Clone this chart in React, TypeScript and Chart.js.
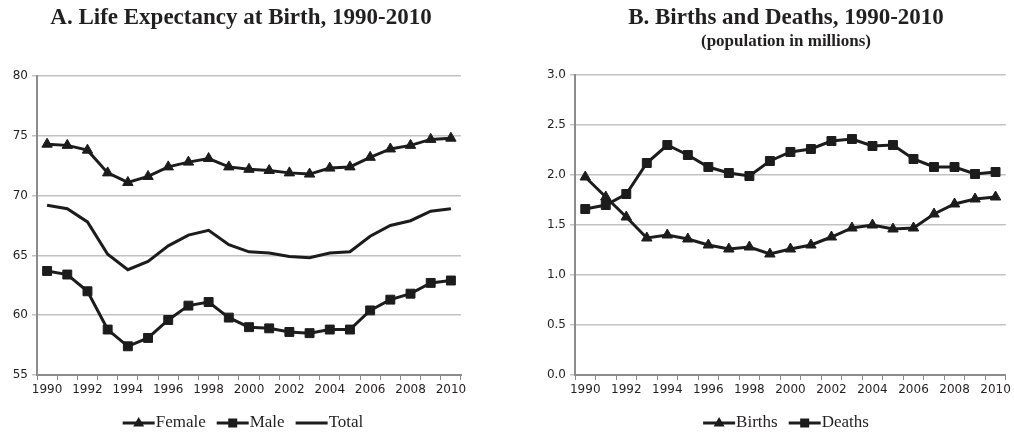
import { useEffect, useRef } from 'react';
import { Chart, registerables } from 'chart.js';

Chart.register(...registerables);

const years = ['1990', '1991', '1992', '1993', '1994', '1995', '1996', '1997', '1998', '1999', '2000', '2001', '2002', '2003', '2004', '2005', '2006', '2007', '2008', '2009', '2010'];
const female = [74.3, 74.2, 73.8, 71.9, 71.1, 71.6, 72.4, 72.8, 73.1, 72.4, 72.2, 72.1, 71.9, 71.8, 72.3, 72.4, 73.2, 73.9, 74.2, 74.7, 74.8];
const male = [63.7, 63.4, 62.0, 58.8, 57.4, 58.1, 59.6, 60.8, 61.1, 59.8, 59.0, 58.9, 58.6, 58.5, 58.8, 58.8, 60.4, 61.3, 61.8, 62.7, 62.9];
const total = [69.2, 68.9, 67.8, 65.1, 63.8, 64.5, 65.8, 66.7, 67.1, 65.9, 65.3, 65.2, 64.9, 64.8, 65.2, 65.3, 66.6, 67.5, 67.9, 68.7, 68.9];
const births = [1.98, 1.78, 1.58, 1.37, 1.40, 1.36, 1.30, 1.26, 1.28, 1.21, 1.26, 1.30, 1.38, 1.47, 1.50, 1.46, 1.47, 1.61, 1.71, 1.76, 1.78];
const deaths = [1.66, 1.70, 1.81, 2.12, 2.30, 2.20, 2.08, 2.02, 1.99, 2.14, 2.23, 2.26, 2.34, 2.36, 2.29, 2.30, 2.16, 2.08, 2.08, 2.01, 2.03];
const lifeTicks = [55, 60, 65, 70, 75, 80];
const popTicks = [0, 0.5, 1.0, 1.5, 2.0, 2.5, 3.0];

const titleA = 'A. Life Expectancy at Birth, 1990-2010';
const titleB = 'B. Births and Deaths, 1990-2010';
const subtitleB = '(population in millions)';

const SERIF = "'Liberation Serif', 'Times New Roman', serif";
const SANS = "'DejaVu Sans', Verdana, sans-serif";
const INK = '#1c1c1c';
const TEXT = '#231f20';
const GRID = '#c2c2c2';
const AXIS = '#8c8c8c';

// Draws an Excel-like legend (line with marker, then label) under the chart.
const lineLegend = {
  id: 'lineLegend',
  afterDraw(chart: any, _args: any, opts: any) {
    const ctx = chart.ctx;
    ctx.save();
    ctx.font = `17px ${SERIF}`;
    const markW = 32;
    const gapText = 1;
    const gapItem = 11;
    const items = chart.data.datasets.map((d: any) => ({
      label: d.label,
      style: d.pointStyle,
      w: markW + gapText + ctx.measureText(d.label).width,
    }));
    const totalW = items.reduce((s: number, it: any) => s + it.w, 0) + gapItem * (items.length - 1);
    let x = opts.centerX - totalW / 2;
    const ly = opts.lineY;
    for (const it of items) {
      ctx.strokeStyle = INK;
      ctx.fillStyle = INK;
      ctx.lineWidth = 3;
      ctx.beginPath();
      ctx.moveTo(x, ly);
      ctx.lineTo(x + markW, ly);
      ctx.stroke();
      const cx = x + markW / 2;
      if (it.style === 'triangle') {
        ctx.beginPath();
        ctx.moveTo(cx, ly - 6);
        ctx.lineTo(cx + 5.5, ly + 3.5);
        ctx.lineTo(cx - 5.5, ly + 3.5);
        ctx.closePath();
        ctx.fill();
      } else if (it.style === 'rect') {
        ctx.fillRect(cx - 4.5, ly - 4.5, 9, 9);
      }
      ctx.fillStyle = TEXT;
      ctx.textAlign = 'left';
      ctx.textBaseline = 'alphabetic';
      ctx.fillText(it.label, x + markW + gapText, opts.textY);
      x += it.w + gapItem;
    }
    ctx.restore();
  },
};

// Re-centres the title/subtitle blocks horizontally around a given x.
const titleCenter = {
  id: 'titleCenter',
  afterLayout(chart: any, _args: any, opts: any) {
    for (const box of chart.boxes) {
      if (box && box.options && box.options.text !== undefined && box.position === 'top') {
        box.left = opts.center - 250;
        box.right = opts.center + 250;
        box.width = 500;
      }
    }
  },
};

function xScale() {
  return {
    type: 'category',
    offset: true,
    grid: { offset: true, drawOnChartArea: false, drawTicks: true, tickLength: 5, color: AXIS, lineWidth: 1 },
    border: { color: AXIS, width: 2 },
    ticks: {
      autoSkip: false,
      maxRotation: 0,
      minRotation: 0,
      padding: 3,
      color: TEXT,
      font: { family: SANS, size: 12 },
      callback: (_v: any, i: number) => (i % 2 === 0 ? years[i] : ''),
    },
    afterFit: (s: any) => { s.height = 30; },
  };
}

function yScale(ticks: number[], yWidth: number, fmt: (v: number) => string) {
  return {
    type: 'linear',
    min: ticks[0],
    max: ticks[ticks.length - 1],
    afterBuildTicks: (s: any) => { s.ticks = ticks.map((v) => ({ value: v })); },
    grid: { color: GRID, lineWidth: 1.5, drawTicks: true, tickLength: 5 },
    border: { color: AXIS, width: 2 },
    ticks: {
      padding: 4,
      color: TEXT,
      font: { family: SANS, size: 12 },
      callback: (v: any) => fmt(Number(v)),
    },
    afterFit: (s: any) => { s.width = yWidth; },
  };
}

function lineDs(label: string, data: number[], style: any) {
  return {
    label,
    data,
    borderColor: INK,
    backgroundColor: INK,
    borderWidth: 3,
    tension: 0,
    pointStyle: style,
    pointRadius: style === false ? 0 : style === 'rect' ? 6.3 : 6,
    pointBorderWidth: 1,
    pointBackgroundColor: INK,
    pointBorderColor: INK,
  };
}

export default function App() {
  const leftRef = useRef<HTMLCanvasElement>(null);
  const rightRef = useRef<HTMLCanvasElement>(null);

  useEffect(() => {
    const left = new Chart(leftRef.current as HTMLCanvasElement, {
      type: 'line',
      data: {
        labels: years,
        datasets: [
          lineDs('Female', female, 'triangle'),
          lineDs('Male', male, 'rect'),
          lineDs('Total', total, false),
        ],
      },
      options: {
        responsive: false,
        animation: false,
        layout: { padding: { left: 0, right: 34, top: 0, bottom: 35 } },
        scales: {
          x: xScale() as any,
          y: yScale(lifeTicks, 37, (v) => String(v)) as any,
        },
        plugins: {
          legend: { display: false },
          tooltip: { enabled: false },
          title: {
            display: true,
            text: titleA,
            color: TEXT,
            font: { family: SERIF, size: 23, weight: 'bold', lineHeight: 1.2 },
            padding: { top: 4.5, bottom: 43.9 },
          },
          lineLegend: { centerX: 243, lineY: 423, textY: 427 },
          titleCenter: { center: 241 },
        } as any,
      },
      plugins: [lineLegend, titleCenter],
    });

    const right = new Chart(rightRef.current as HTMLCanvasElement, {
      type: 'line',
      data: {
        labels: years,
        datasets: [
          lineDs('Births', births, 'triangle'),
          lineDs('Deaths', deaths, 'rect'),
        ],
      },
      options: {
        responsive: false,
        animation: false,
        layout: { padding: { left: 0, right: 7, top: 0, bottom: 35 } },
        scales: {
          x: xScale() as any,
          y: yScale(popTicks, 80, (v) => v.toFixed(1)) as any,
        },
        plugins: {
          legend: { display: false },
          tooltip: { enabled: false },
          title: {
            display: true,
            text: titleB,
            color: TEXT,
            font: { family: SERIF, size: 23, weight: 'bold', lineHeight: 1.2 },
            padding: { top: 4, bottom: 0 },
          },
          subtitle: {
            display: true,
            text: subtitleB,
            color: TEXT,
            font: { family: SERIF, size: 17, weight: 'bold', lineHeight: 1.2 },
            padding: { top: 0, bottom: 23 },
          },
          lineLegend: { centerX: 291, lineY: 423, textY: 427 },
          titleCenter: { center: 291 },
        } as any,
      },
      plugins: [lineLegend, titleCenter],
    });

    return () => {
      left.destroy();
      right.destroy();
    };
  }, []);

  return (
    <div style={{ position: 'absolute', left: 0, top: 0, width: 1014, height: 440, background: '#fff' }}>
      <canvas ref={leftRef} width={495} height={440} style={{ position: 'absolute', left: 0, top: 0, display: 'block' }} />
      <canvas ref={rightRef} width={519} height={440} style={{ position: 'absolute', left: 495, top: 0, display: 'block' }} />
    </div>
  );
}
